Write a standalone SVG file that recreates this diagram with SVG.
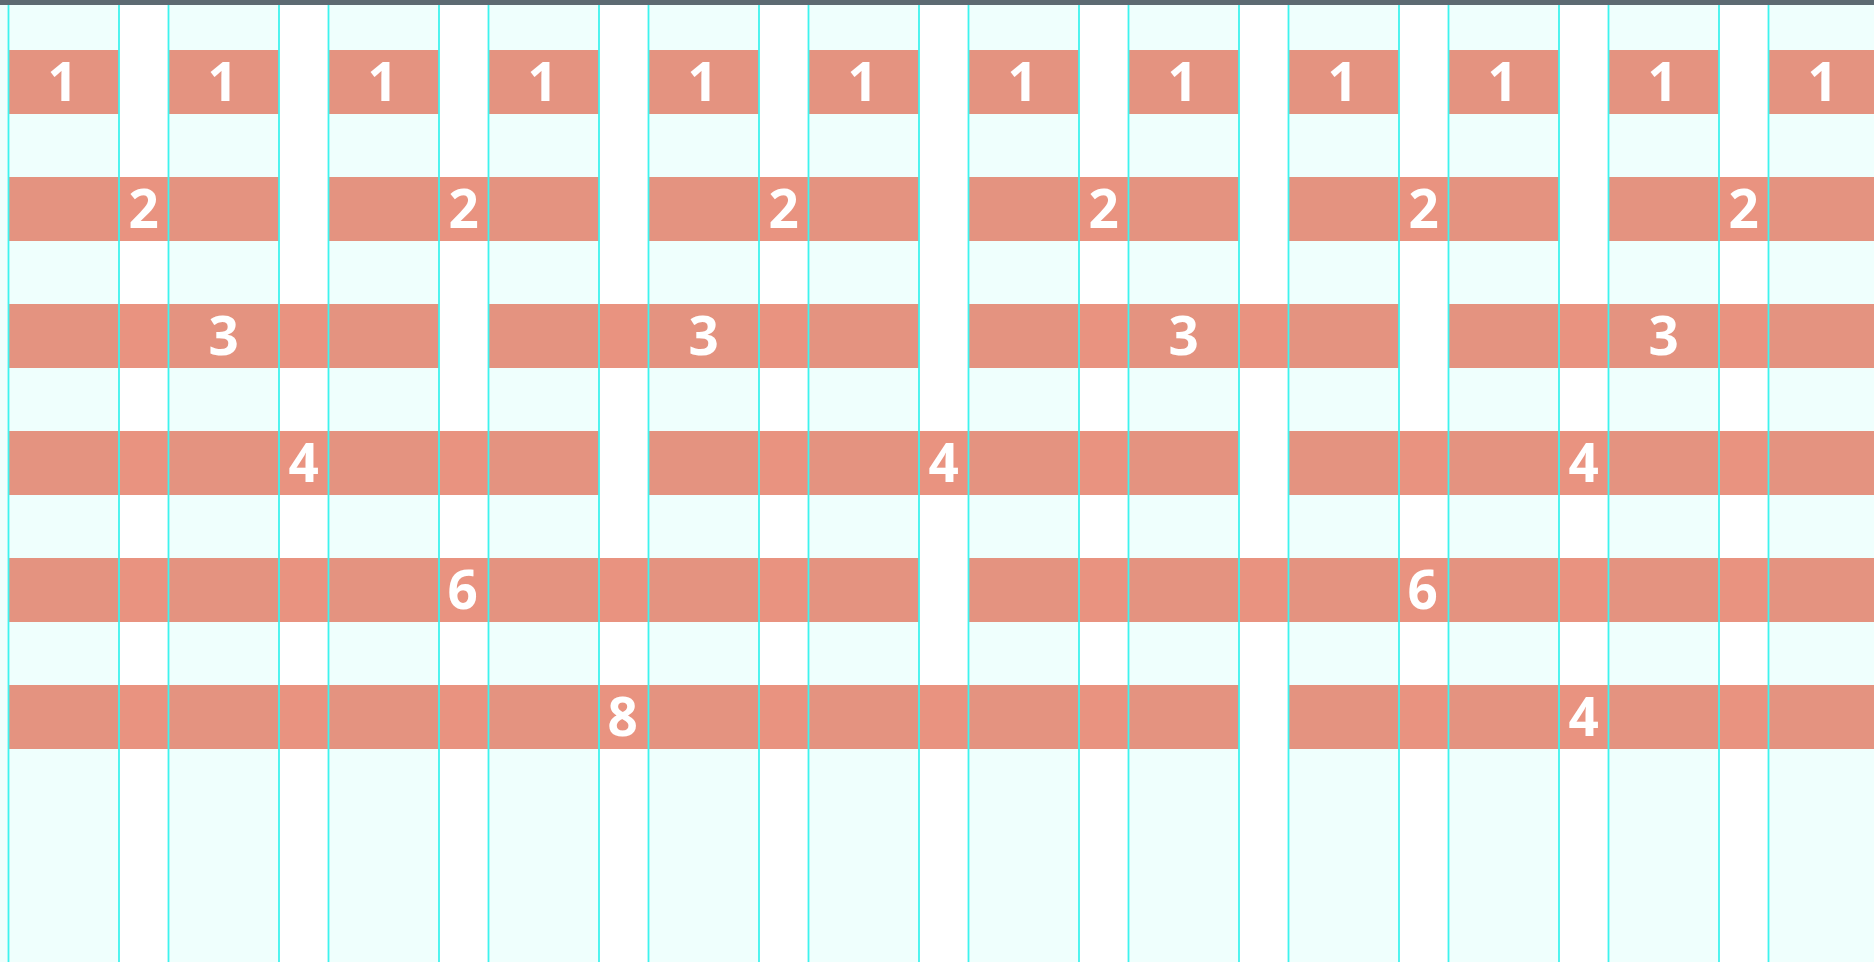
<svg xmlns="http://www.w3.org/2000/svg" width="1874" height="962" viewBox="0 0 1874 962">
<style>
.col{fill:#effffd}
.bar{fill:rgb(224,101,74);fill-opacity:0.7}
.num{font-family:"Open Sans","DejaVu Sans",sans-serif;font-weight:bold;font-size:53px;fill:#ffffff;text-anchor:middle}
.gl{stroke:#3ef3ee;stroke-width:1.8}
</style>
<rect x="0" y="0" width="1874" height="962" fill="#ffffff"/>
<g id="columns">
<rect class="col" x="0" y="5" width="8.5" height="957"/>
<rect class="col" x="8.5" y="5" width="110.5" height="957"/>
<rect class="col" x="168.5" y="5" width="110.5" height="957"/>
<rect class="col" x="328.5" y="5" width="110.5" height="957"/>
<rect class="col" x="488.5" y="5" width="110.5" height="957"/>
<rect class="col" x="648.5" y="5" width="110.5" height="957"/>
<rect class="col" x="808.5" y="5" width="110.5" height="957"/>
<rect class="col" x="968.5" y="5" width="110.5" height="957"/>
<rect class="col" x="1128.5" y="5" width="110.5" height="957"/>
<rect class="col" x="1288.5" y="5" width="110.5" height="957"/>
<rect class="col" x="1448.5" y="5" width="110.5" height="957"/>
<rect class="col" x="1608.5" y="5" width="110.5" height="957"/>
<rect class="col" x="1768.5" y="5" width="110.5" height="957"/>
</g>
<g id="row1">
<rect class="bar" x="8.5" y="50" width="110.5" height="64"/>
<rect class="bar" x="168.5" y="50" width="110.5" height="64"/>
<rect class="bar" x="328.5" y="50" width="110.5" height="64"/>
<rect class="bar" x="488.5" y="50" width="110.5" height="64"/>
<rect class="bar" x="648.5" y="50" width="110.5" height="64"/>
<rect class="bar" x="808.5" y="50" width="110.5" height="64"/>
<rect class="bar" x="968.5" y="50" width="110.5" height="64"/>
<rect class="bar" x="1128.5" y="50" width="110.5" height="64"/>
<rect class="bar" x="1288.5" y="50" width="110.5" height="64"/>
<rect class="bar" x="1448.5" y="50" width="110.5" height="64"/>
<rect class="bar" x="1608.5" y="50" width="110.5" height="64"/>
<rect class="bar" x="1768.5" y="50" width="110.5" height="64"/>
</g>
<g id="row2">
<rect class="bar" x="8.5" y="177" width="270.5" height="64"/>
<rect class="bar" x="328.5" y="177" width="270.5" height="64"/>
<rect class="bar" x="648.5" y="177" width="270.5" height="64"/>
<rect class="bar" x="968.5" y="177" width="270.5" height="64"/>
<rect class="bar" x="1288.5" y="177" width="270.5" height="64"/>
<rect class="bar" x="1608.5" y="177" width="270.5" height="64"/>
</g>
<g id="row3">
<rect class="bar" x="8.5" y="304" width="430.5" height="64"/>
<rect class="bar" x="488.5" y="304" width="430.5" height="64"/>
<rect class="bar" x="968.5" y="304" width="430.5" height="64"/>
<rect class="bar" x="1448.5" y="304" width="430.5" height="64"/>
</g>
<g id="row4">
<rect class="bar" x="8.5" y="431" width="590.5" height="64"/>
<rect class="bar" x="648.5" y="431" width="590.5" height="64"/>
<rect class="bar" x="1288.5" y="431" width="590.5" height="64"/>
</g>
<g id="row5">
<rect class="bar" x="8.5" y="558" width="910.5" height="64"/>
<rect class="bar" x="968.5" y="558" width="910.5" height="64"/>
</g>
<g id="row6">
<rect class="bar" x="8.5" y="685" width="1230.5" height="64"/>
<rect class="bar" x="1288.5" y="685" width="590.5" height="64"/>
</g>
<g id="gridlines">
<line class="gl" x1="8.5" y1="5" x2="8.5" y2="962"/>
<line class="gl" x1="119" y1="5" x2="119" y2="962"/>
<line class="gl" x1="168.5" y1="5" x2="168.5" y2="962"/>
<line class="gl" x1="279" y1="5" x2="279" y2="962"/>
<line class="gl" x1="328.5" y1="5" x2="328.5" y2="962"/>
<line class="gl" x1="439" y1="5" x2="439" y2="962"/>
<line class="gl" x1="488.5" y1="5" x2="488.5" y2="962"/>
<line class="gl" x1="599" y1="5" x2="599" y2="962"/>
<line class="gl" x1="648.5" y1="5" x2="648.5" y2="962"/>
<line class="gl" x1="759" y1="5" x2="759" y2="962"/>
<line class="gl" x1="808.5" y1="5" x2="808.5" y2="962"/>
<line class="gl" x1="919" y1="5" x2="919" y2="962"/>
<line class="gl" x1="968.5" y1="5" x2="968.5" y2="962"/>
<line class="gl" x1="1079" y1="5" x2="1079" y2="962"/>
<line class="gl" x1="1128.5" y1="5" x2="1128.5" y2="962"/>
<line class="gl" x1="1239" y1="5" x2="1239" y2="962"/>
<line class="gl" x1="1288.5" y1="5" x2="1288.5" y2="962"/>
<line class="gl" x1="1399" y1="5" x2="1399" y2="962"/>
<line class="gl" x1="1448.5" y1="5" x2="1448.5" y2="962"/>
<line class="gl" x1="1559" y1="5" x2="1559" y2="962"/>
<line class="gl" x1="1608.5" y1="5" x2="1608.5" y2="962"/>
<line class="gl" x1="1719" y1="5" x2="1719" y2="962"/>
<line class="gl" x1="1768.5" y1="5" x2="1768.5" y2="962"/>
</g>
<g id="labels">
<text class="num" x="62.75" y="101">1</text>
<text class="num" x="222.75" y="101">1</text>
<text class="num" x="382.75" y="101">1</text>
<text class="num" x="542.75" y="101">1</text>
<text class="num" x="702.75" y="101">1</text>
<text class="num" x="862.75" y="101">1</text>
<text class="num" x="1022.75" y="101">1</text>
<text class="num" x="1182.75" y="101">1</text>
<text class="num" x="1342.75" y="101">1</text>
<text class="num" x="1502.75" y="101">1</text>
<text class="num" x="1662.75" y="101">1</text>
<text class="num" x="1822.75" y="101">1</text>
<text class="num" x="143.75" y="228">2</text>
<text class="num" x="463.75" y="228">2</text>
<text class="num" x="783.75" y="228">2</text>
<text class="num" x="1103.75" y="228">2</text>
<text class="num" x="1423.75" y="228">2</text>
<text class="num" x="1743.75" y="228">2</text>
<text class="num" x="223.75" y="355">3</text>
<text class="num" x="703.75" y="355">3</text>
<text class="num" x="1183.75" y="355">3</text>
<text class="num" x="1663.75" y="355">3</text>
<text class="num" x="303.75" y="482">4</text>
<text class="num" x="943.75" y="482">4</text>
<text class="num" x="1583.75" y="482">4</text>
<text class="num" x="462.75" y="609">6</text>
<text class="num" x="1422.75" y="609">6</text>
<text class="num" x="622.75" y="736">8</text>
<text class="num" x="1583.75" y="736">4</text>
</g>
<rect id="topbar" x="0" y="0" width="1874" height="5" fill="#5d6a72"/>
</svg>
